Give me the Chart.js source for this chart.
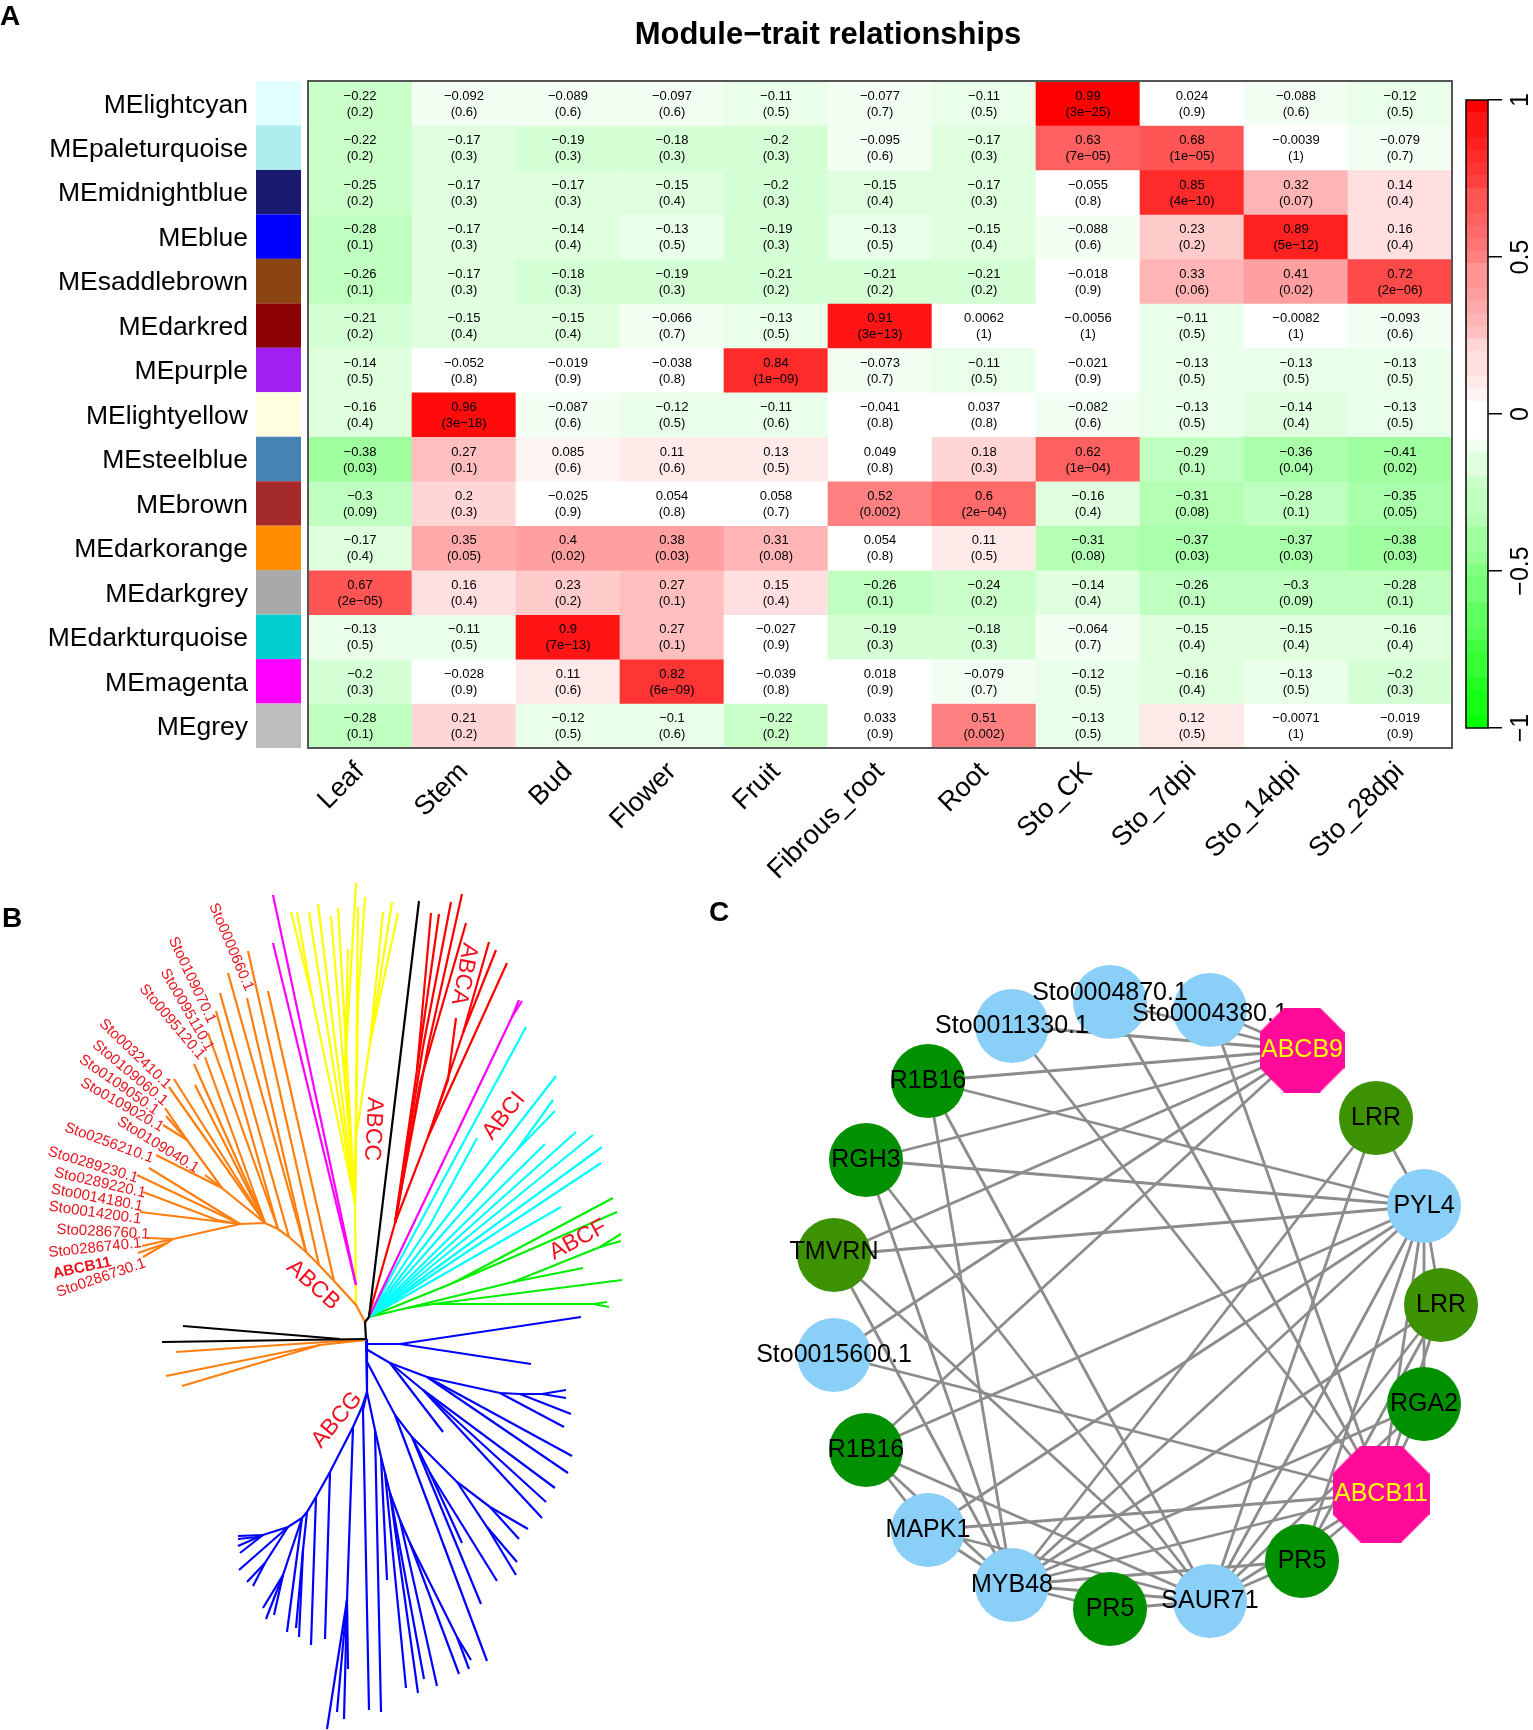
<!DOCTYPE html>
<html>
<head>
<meta charset="utf-8">
<title>Module-trait relationships</title>
<script src="https://cdn.jsdelivr.net/npm/chart.js@4/dist/chart.umd.js"></script>
<style>
  body { margin: 0; background: #fff; }
  #page { position: relative; width: 1533px; height: 1730px; overflow: hidden; font-family: "Liberation Sans", Arial, sans-serif; }
  canvas { position: absolute; }
  .letter { position: absolute; font-size: 28px; font-weight: bold; line-height: 28px; color: #000; }
  #title { position: absolute; left: 528px; width: 600px; top: 17px; text-align: center; font-size: 31px; line-height: 34px; font-weight: bold; color: #000; }
</style>
</head>
<body>
<div id="page">
  <canvas id="heatmap" width="1533" height="880" style="left:0;top:0"></canvas>
  <canvas id="colorbar" width="93" height="680" style="left:1439px;top:80px"></canvas>
  <canvas id="tree" width="700" height="860" style="left:0;top:870px"></canvas>
  <canvas id="network" width="833" height="840" style="left:700px;top:890px"></canvas>
  <div id="title">Module−trait relationships</div>
  <div class="letter" style="left:0;top:2px">A</div>
  <div class="letter" style="left:2px;top:904px">B</div>
  <div class="letter" style="left:709px;top:898px">C</div>
</div>
<script>
'use strict';

//Panel A data
const modules = ['MElightcyan', 'MEpaleturquoise', 'MEmidnightblue', 'MEblue', 'MEsaddlebrown', 'MEdarkred', 'MEpurple', 'MElightyellow', 'MEsteelblue', 'MEbrown', 'MEdarkorange', 'MEdarkgrey', 'MEdarkturquoise', 'MEmagenta', 'MEgrey'];
const moduleColors = ['#E0FFFF', '#AFEEEE', '#191970', '#0000FF', '#8B4513', '#8B0000', '#A020F0', '#FFFFE0', '#4682B4', '#A52A2A', '#FF8C00', '#A9A9A9', '#00CED1', '#FF00FF', '#BEBEBE'];
const traits = ['Leaf', 'Stem', 'Bud', 'Flower', 'Fruit', 'Fibrous_root', 'Root', 'Sto_CK', 'Sto_7dpi', 'Sto_14dpi', 'Sto_28dpi'];
const corr = [
  [-0.22, -0.092, -0.089, -0.097, -0.11, -0.077, -0.11, 0.99, 0.024, -0.088, -0.12],
  [-0.22, -0.17, -0.19, -0.18, -0.2, -0.095, -0.17, 0.63, 0.68, -0.0039, -0.079],
  [-0.25, -0.17, -0.17, -0.15, -0.2, -0.15, -0.17, -0.055, 0.85, 0.32, 0.14],
  [-0.28, -0.17, -0.14, -0.13, -0.19, -0.13, -0.15, -0.088, 0.23, 0.89, 0.16],
  [-0.26, -0.17, -0.18, -0.19, -0.21, -0.21, -0.21, -0.018, 0.33, 0.41, 0.72],
  [-0.21, -0.15, -0.15, -0.066, -0.13, 0.91, 0.0062, -0.0056, -0.11, -0.0082, -0.093],
  [-0.14, -0.052, -0.019, -0.038, 0.84, -0.073, -0.11, -0.021, -0.13, -0.13, -0.13],
  [-0.16, 0.96, -0.087, -0.12, -0.11, -0.041, 0.037, -0.082, -0.13, -0.14, -0.13],
  [-0.38, 0.27, 0.085, 0.11, 0.13, 0.049, 0.18, 0.62, -0.29, -0.36, -0.41],
  [-0.3, 0.2, -0.025, 0.054, 0.058, 0.52, 0.6, -0.16, -0.31, -0.28, -0.35],
  [-0.17, 0.35, 0.4, 0.38, 0.31, 0.054, 0.11, -0.31, -0.37, -0.37, -0.38],
  [0.67, 0.16, 0.23, 0.27, 0.15, -0.26, -0.24, -0.14, -0.26, -0.3, -0.28],
  [-0.13, -0.11, 0.9, 0.27, -0.027, -0.19, -0.18, -0.064, -0.15, -0.15, -0.16],
  [-0.2, -0.028, 0.11, 0.82, -0.039, 0.018, -0.079, -0.12, -0.16, -0.13, -0.2],
  [-0.28, 0.21, -0.12, -0.1, -0.22, 0.033, 0.51, -0.13, 0.12, -0.0071, -0.019]
];
const pvals = [
  ['0.2', '0.6', '0.6', '0.6', '0.5', '0.7', '0.5', '3e−25', '0.9', '0.6', '0.5'],
  ['0.2', '0.3', '0.3', '0.3', '0.3', '0.6', '0.3', '7e−05', '1e−05', '1', '0.7'],
  ['0.2', '0.3', '0.3', '0.4', '0.3', '0.4', '0.3', '0.8', '4e−10', '0.07', '0.4'],
  ['0.1', '0.3', '0.4', '0.5', '0.3', '0.5', '0.4', '0.6', '0.2', '5e−12', '0.4'],
  ['0.1', '0.3', '0.3', '0.3', '0.2', '0.2', '0.2', '0.9', '0.06', '0.02', '2e−06'],
  ['0.2', '0.4', '0.4', '0.7', '0.5', '3e−13', '1', '1', '0.5', '1', '0.6'],
  ['0.5', '0.8', '0.9', '0.8', '1e−09', '0.7', '0.5', '0.9', '0.5', '0.5', '0.5'],
  ['0.4', '3e−18', '0.6', '0.5', '0.6', '0.8', '0.8', '0.6', '0.5', '0.4', '0.5'],
  ['0.03', '0.1', '0.6', '0.6', '0.5', '0.8', '0.3', '1e−04', '0.1', '0.04', '0.02'],
  ['0.09', '0.3', '0.9', '0.8', '0.7', '0.002', '2e−04', '0.4', '0.08', '0.1', '0.05'],
  ['0.4', '0.05', '0.02', '0.03', '0.08', '0.8', '0.5', '0.08', '0.03', '0.03', '0.03'],
  ['2e−05', '0.4', '0.2', '0.1', '0.4', '0.1', '0.2', '0.4', '0.1', '0.09', '0.1'],
  ['0.5', '0.5', '7e−13', '0.1', '0.9', '0.3', '0.3', '0.7', '0.4', '0.4', '0.4'],
  ['0.3', '0.9', '0.6', '6e−09', '0.8', '0.9', '0.7', '0.5', '0.4', '0.5', '0.3'],
  ['0.1', '0.2', '0.5', '0.6', '0.2', '0.9', '0.002', '0.5', '0.5', '1', '0.9']
];
const colorbarTicks = [-1, -0.5, 0, 0.5, 1];

//Panel B data, tree branches as x,y runs in figure units
const abcbBranches = [
  [365,1322,356,1305,334,1281,319,1265,306,1252,289,1237,278,1229,265,1223,240,1224,173,1239],
  [334,1281,268,991], [319,1265,248,951], [306,1252,228,973], [306,1252,247,998],
  [289,1237,220,993], [278,1229,216,1011], [278,1229,208,1033], [265,1223,205,1057],
  [265,1223,194,1064], [265,1223,195,1085], [265,1223,174,1079], [265,1223,169,1087],
  [265,1223,222,1188,187,1140,165,1108], [187,1140,166,1116], [187,1140,163,1125],
  [222,1188,156,1155], [222,1188,205,1175], [240,1224,149,1168], [240,1224,137,1175],
  [240,1224,217,1220,143,1192], [240,1224,140,1212], [173,1239,147,1238], [173,1239,142,1246],
  [173,1239,167,1243,138,1253], [167,1243,143,1257],
  [366,1340,340,1341,176,1352], [366,1340,320,1345,166,1376], [320,1345,182,1386]
];
const abccBranches = [
  [356,1305,355,1203,312,997,291,912], [312,997,297,912], [355,1203,309,912], [355,1203,318,904],
  [355,1203,331,916], [355,1203,338,908], [355,1203,345,1070,348,949], [345,1070,356,883],
  [355,1203,358,907], [355,1203,358,1000,365,897], [355,1203,356,1137,370,1043,383,912],
  [370,1043,392,902], [370,1043,398,913]
];
const magentaBranches = [
  [356,1285,273,895], [356,1285,273,943], [370,1315,512,1017,519,1000], [512,1017,522,1001]
];
const abcaBranches = [
  [369,1315,395,1223,417,1070,431,913], [417,1070,439,914], [395,1223,423,1047,451,902],
  [395,1223,428,1047,462,894], [395,1223,420,1083,466,923], [395,1223,428,1137,463,1033,489,942],
  [463,1033,496,950], [428,1137,507,963], [428,1137,448,1080,456,1018]
];
const abciBranches = [
  [369,1317,526,1027], [369,1317,430,1225,477,1138], [369,1317,556,1076], [369,1317,517,1150,553,1100],
  [517,1150,555,1111], [369,1317,545,1144], [369,1317,576,1132], [369,1317,593,1135],
  [369,1317,602,1147], [369,1317,601,1163], [369,1317,561,1207]
];
const abcfBranches = [
  [369,1317,453,1283,613,1198], [453,1283,617,1212], [369,1317,407,1308,513,1282,600,1247,621,1234],
  [600,1247,621,1241], [513,1282,583,1268], [407,1308,433,1304,622,1280], [433,1304,593,1304,607,1302],
  [593,1304,609,1307]
];
const blackBranches = [
  [365,1322,366,1339], [365,1322,369,1317,419,901], [340,1339,183,1326], [366,1339,162,1342]
];
const abcgBranches = [
  [366,1339,367,1392], [366,1344,400,1344,581,1317], [400,1344,531,1364],
  [366,1349,390,1363,427,1377,500,1393,520,1394,542,1394,566,1390], [542,1394,566,1398], [520,1394,571,1414],
  [500,1393,564,1427], [427,1377,572,1456], [427,1377,568,1473], [390,1363,443,1432],
  [390,1363,423,1390,555,1488], [423,1390,546,1502], [423,1390,542,1518],
  [366,1360,395,1415,412,1437,430,1473,462,1543], [430,1473,497,1581], [412,1437,457,1482,490,1507,528,1529],
  [490,1507,519,1539], [457,1482,487,1527,517,1562], [487,1527,516,1575], [395,1415,487,1661], [412,1437,481,1604],
  [367,1392,363,1410,369,1710], [367,1392,375,1430,381,1712], [375,1430,381,1457,387,1580],
  [381,1457,385,1473,406,1688], [385,1473,390,1493,418,1693], [390,1493,424,1679], [390,1493,400,1520,437,1686],
  [400,1520,410,1543,459,1674], [410,1543,457,1637,471,1660], [457,1637,469,1669],
  [367,1392,362,1407,353,1427,330,1472,316,1497,307,1512,302,1518,288,1527,263,1535,238,1536],
  [353,1427,347,1600,344,1719], [347,1600,327,1729], [347,1600,337,1712], [347,1600,348,1669],
  [330,1472,325,1639], [316,1497,311,1645], [307,1512,303,1550,299,1637], [303,1550,296,1628],
  [302,1518,287,1632], [302,1518,283,1575,263,1608], [283,1575,266,1619], [283,1575,274,1615],
  [288,1527,265,1563,253,1586], [265,1563,247,1582], [288,1527,239,1570],
  [263,1535,238,1546], [263,1535,257,1537,238,1539], [263,1535,240,1553]
];
const seqLabels = ['Sto0000660.1', 'Sto0109070.1', 'Sto0095110.1', 'Sto0095120.1', 'Sto0032410.1', 'Sto0109060.1', 'Sto0109050.1', 'Sto0109020.1', 'Sto0109040.1', 'Sto0256210.1', 'Sto0289230.1', 'Sto0289220.1', 'Sto0014180.1', 'Sto0014200.1', 'Sto0286760.1', 'Sto0286740.1', 'ABCB11', 'Sto0286730.1'];
const seqX = [231, 192, 187, 172, 135, 130, 119, 122, 158, 109, 93, 100, 97, 95, 103, 95, 82, 101];
const seqY = [947, 980, 1010, 1022, 1054, 1073, 1085, 1105, 1145, 1143, 1165, 1183, 1198, 1213, 1232, 1248, 1268, 1278];
const seqAngle = [67, 65, 60, 50, 44, 40, 35, 30, 32, 20, 17, 13, 11, 8, 3, -6, -12, -19];
const cladeLabels = ['ABCB', 'ABCC', 'ABCA', 'ABCI', 'ABCF', 'ABCG'];
const cladeX = [313, 373, 464, 504, 578, 337];
const cladeY = [1285, 1129, 974, 1116, 1240, 1420];
const cladeAngle = [42, 93, 101, -51, -28, -50];

//Panel C data
const nodeNames = ['Sto0004870.1', 'Sto0004380.1', 'ABCB9', 'LRR', 'PYL4', 'LRR', 'RGA2', 'ABCB11', 'PR5', 'SAUR71', 'PR5', 'MYB48', 'MAPK1', 'R1B16', 'Sto0015600.1', 'TMVRN', 'RGH3', 'R1B16', 'Sto0011330.1'];
const nodeX = [1110, 1210, 1302, 1376, 1424, 1441, 1424, 1381, 1302, 1210, 1110, 1012, 928, 866, 834, 834, 866, 928, 1012];
const nodeY = [1002, 1010, 1050, 1118, 1206, 1305, 1404, 1494, 1561, 1601, 1609, 1585, 1530, 1450, 1355, 1255, 1160, 1081, 1026];
const nodeKinds = ['sto', 'sto', 'hub', 'olive', 'sto', 'olive', 'green', 'hub', 'green', 'sto', 'green', 'sto', 'sto', 'green', 'sto', 'olive', 'green', 'green', 'sto'];
const edges = [
  [18,2],[1,2],[0,2],[17,2],[16,2],[15,2],[14,2],[13,2],
  [3,4],[17,4],[16,4],[15,4],[13,4],[12,4],[11,4],[9,4],[8,4],[7,4],[6,4],[5,4],
  [3,11],[3,9],[5,11],[5,9],[5,8],[5,7],[6,7],[6,11],[6,9],
  [1,7],[0,7],[18,7],[14,7],[12,7],[11,7],[9,7],[8,7],
  [17,11],[17,9],[16,11],[16,9],[15,11],[15,9],[13,11],[13,9],[13,12],
  [12,11],[12,9],[11,10],[11,8],[11,9],[9,10],[9,8]
];

const fontName = '"Liberation Sans", Arial, sans-serif';
Chart.defaults.font.family = fontName;
Chart.defaults.animation = false;
Chart.defaults.responsive = false;
Chart.defaults.devicePixelRatio = 1;
Chart.defaults.plugins.legend.display = false;
Chart.defaults.plugins.tooltip.enabled = false;

//greenWhiteRed palette, 0.04 wide bands, white around zero
function corrColor(v) {
  let step = Math.max(0, Math.floor((Math.abs(v) - 0.02) / 0.04));
  let c = Math.round(255 * (1 - Math.min(step, 24) / 24));
  return v > 0 ? `rgb(255,${c},${c})` : `rgb(${c},255,${c})`;
}

function minusSign(v) {
  return String(v).replace('-', '−');
}

function rotatedText(ctx, text, x, y, angle) {
  ctx.save();
  ctx.translate(x, y);
  ctx.rotate(angle * Math.PI / 180);
  ctx.fillText(text, 0, 0);
  ctx.restore();
}

//heatmap cells, swatches and text
const heatmapPlugin = {
  id: 'heatmapExtras',
  afterDatasetsDraw(chart) {
    const { ctx, scales, chartArea } = chart;
    ctx.save();
    ctx.textAlign = 'center';
    ctx.textBaseline = 'middle';
    ctx.fillStyle = '#000';
    ctx.font = `13px ${fontName}`;
    corr.forEach((row, r) => {
      let yMid = scales.y.getPixelForValue(r + 0.5);
      row.forEach((v, c) => {
        let xMid = scales.x.getPixelForValue(c);
        ctx.fillText(minusSign(v), xMid, yMid - 7);
        ctx.fillText(`(${pvals[r][c]})`, xMid, yMid + 9);
      });
      ctx.fillStyle = moduleColors[r];
      ctx.fillRect(256, scales.y.getPixelForValue(r), 45, scales.y.getPixelForValue(r + 1) - scales.y.getPixelForValue(r));
      ctx.fillStyle = '#000';
    });
    ctx.strokeStyle = '#555';
    ctx.lineWidth = 2;
    ctx.strokeRect(chartArea.left, chartArea.top, chartArea.width, chartArea.height);
    ctx.restore();
  }
};

new Chart(document.getElementById('heatmap'), {
  type: 'bar',
  data: {
    labels: traits,
    datasets: corr.map((row, r) => ({
      label: modules[r],
      data: row.map(() => 1),
      backgroundColor: row.map(corrColor),
      borderWidth: 0,
      barPercentage: 1,
      categoryPercentage: 1
    }))
  },
  options: {
    layout: { padding: { top: 81, right: 81, left: 0, bottom: 0 } },
    scales: {
      x: {
        stacked: true,
        grid: { display: false, drawTicks: false },
        border: { display: false },
        ticks: { color: '#000', font: { size: 27 }, minRotation: 45, maxRotation: 45, autoSkip: false, padding: 8 },
        afterFit(scale) { scale.height = 132; scale.paddingLeft = 0; scale.paddingRight = 0; }
      },
      y: {
        stacked: true,
        reverse: true,
        min: 0,
        max: 15,
        grid: { display: false, drawTicks: false },
        border: { display: false },
        afterBuildTicks(scale) { scale.ticks = modules.map((m, i) => ({ value: i + 0.5 })); },
        ticks: { color: '#000', font: { size: 26.5 }, autoSkip: false, padding: 60, labelOffset: 2, callback: (v) => modules[v - 0.5] },
        afterFit(scale) { scale.width = 308; scale.paddingTop = 0; scale.paddingBottom = 0; }
      }
    }
  },
  plugins: [heatmapPlugin]
});

//colour key
const keyLevels = Array.from({ length: 50 }, (_, i) => -1 + i * 0.04);
const colorbarPlugin = {
  id: 'colorbarExtras',
  afterDraw(chart) {
    const { ctx, scales, chartArea } = chart;
    ctx.save();
    ctx.strokeStyle = '#000';
    ctx.lineWidth = 1.5;
    ctx.strokeRect(chartArea.left, chartArea.top, chartArea.width, chartArea.height);
    ctx.fillStyle = '#000';
    ctx.font = `25px ${fontName}`;
    ctx.textAlign = 'center';
    ctx.textBaseline = 'middle';
    colorbarTicks.forEach((t) => {
      rotatedText(ctx, minusSign(t), 82, scales.y.getPixelForValue(t), -90);
    });
    ctx.restore();
  }
};

new Chart(document.getElementById('colorbar'), {
  type: 'bar',
  data: {
    labels: ['key'],
    datasets: keyLevels.map((lo) => ({
      data: [[lo, lo + 0.04]],
      backgroundColor: corrColor(lo + 0.02),
      grouped: false,
      borderWidth: 0,
      barPercentage: 1,
      categoryPercentage: 1
    }))
  },
  options: {
    layout: { padding: { left: 27, top: 20, bottom: 32, right: 0 } },
    scales: {
      x: { display: false },
      y: {
        position: 'right',
        min: -1,
        max: 1,
        afterBuildTicks(scale) { scale.ticks = colorbarTicks.map((t) => ({ value: t })); },
        grid: { drawOnChartArea: false, tickLength: 14, color: '#000', lineWidth: 1.5 },
        border: { display: false },
        ticks: { display: false },
        afterFit(scale) { scale.width = 44; }
      }
    }
  },
  plugins: [colorbarPlugin]
});

//tree
function branchDatasets(branches, color) {
  return branches.map((run) => {
    let pts = [];
    for (let i = 0; i < run.length; i += 2) {
      pts.push({ x: run[i], y: run[i + 1] });
    }
    return { data: pts, showLine: true, borderColor: color, borderWidth: 2.2, pointRadius: 0, tension: 0 };
  });
}

const treeLabelPlugin = {
  id: 'treeLabels',
  afterDatasetsDraw(chart) {
    const { ctx, scales } = chart;
    ctx.save();
    ctx.textAlign = 'center';
    ctx.textBaseline = 'middle';
    ctx.fillStyle = '#e8141e';
    seqLabels.forEach((name, i) => {
      ctx.font = name === 'ABCB11' ? `bold 15px ${fontName}` : `15px ${fontName}`;
      rotatedText(ctx, name, scales.x.getPixelForValue(seqX[i]), scales.y.getPixelForValue(seqY[i]), seqAngle[i]);
    });
    ctx.fillStyle = '#f01020';
    ctx.font = `23px ${fontName}`;
    cladeLabels.forEach((name, i) => {
      rotatedText(ctx, name, scales.x.getPixelForValue(cladeX[i]), scales.y.getPixelForValue(cladeY[i]), cladeAngle[i]);
    });
    ctx.restore();
  }
};

new Chart(document.getElementById('tree'), {
  type: 'scatter',
  data: {
    datasets: [].concat(
      branchDatasets(blackBranches, '#000000'),
      branchDatasets(magentaBranches, '#ff00ff'),
      branchDatasets(abcaBranches, '#ff0000'),
      branchDatasets(abcbBranches, '#ff7f0e'),
      branchDatasets(abccBranches, '#ffff00'),
      branchDatasets(abciBranches, '#00ffff'),
      branchDatasets(abcfBranches, '#00ee00'),
      branchDatasets(abcgBranches, '#0000ff')
    )
  },
  options: {
    layout: { padding: 0, autoPadding: false },
    scales: {
      x: { display: false, min: 0, max: 700 },
      y: { display: false, min: 870, max: 1730, reverse: true }
    }
  },
  plugins: [treeLabelPlugin]
});

//network
const kindColors = { sto: '#89CFF8', green: '#009000', olive: '#3C9200', hub: '#FF0A99' };

function octagonImage(size, color) {
  let c = document.createElement('canvas');
  c.width = size;
  c.height = size;
  let g = c.getContext('2d');
  let cut = size * 0.29;
  g.fillStyle = color;
  g.beginPath();
  g.moveTo(cut, 0);
  g.lineTo(size - cut, 0);
  g.lineTo(size, cut);
  g.lineTo(size, size - cut);
  g.lineTo(size - cut, size);
  g.lineTo(cut, size);
  g.lineTo(0, size - cut);
  g.lineTo(0, cut);
  g.closePath();
  g.fill();
  return c;
}

const hubImages = { 'ABCB9': octagonImage(85, kindColors.hub), 'ABCB11': octagonImage(97, kindColors.hub) };
const nodeIds = nodeNames.map((n, i) => i);
const hubIds = nodeIds.filter((i) => nodeKinds[i] === 'hub');
const roundIds = nodeIds.filter((i) => nodeKinds[i] !== 'hub');
const labelShift = { 0: -9, 1: 4, 15: -3 };

function drawNodeLabels(chart, ids) {
  const { ctx, scales } = chart;
  ctx.save();
  ctx.textAlign = 'center';
  ctx.textBaseline = 'middle';
  ctx.font = `25px ${fontName}`;
  ids.forEach((i) => {
    ctx.fillStyle = nodeKinds[i] === 'hub' ? '#FFFF00' : '#000';
    ctx.fillText(nodeNames[i], scales.x.getPixelForValue(nodeX[i]) , scales.y.getPixelForValue(nodeY[i] + (labelShift[i] || 0)));
  });
  ctx.restore();
}

new Chart(document.getElementById('network'), {
  type: 'scatter',
  data: {
    datasets: [
      {
        data: hubIds.map((i) => ({ x: nodeX[i], y: nodeY[i] })),
        pointStyle: hubIds.map((i) => hubImages[nodeNames[i]]),
        pointRadius: 40,
        clip: false
      },
      {
        data: roundIds.map((i) => ({ x: nodeX[i], y: nodeY[i] })),
        backgroundColor: roundIds.map((i) => kindColors[nodeKinds[i]]),
        pointBackgroundColor: roundIds.map((i) => kindColors[nodeKinds[i]]),
        pointBorderWidth: 0,
        pointRadius: 37,
        clip: false
      }
    ].concat(edges.map((e) => ({
      data: [{ x: nodeX[e[0]], y: nodeY[e[0]] }, { x: nodeX[e[1]], y: nodeY[e[1]] }],
      showLine: true,
      borderColor: '#8c8c8c',
      borderWidth: 2.8,
      pointRadius: 0
    })))
  },
  options: {
    layout: { padding: 0, autoPadding: false },
    scales: {
      x: { display: false, min: 700, max: 1533 },
      y: { display: false, min: 890, max: 1730, reverse: true }
    }
  },
  plugins: [{
    id: 'nodeLabels',
    afterDatasetDraw(chart, args) {
      if (args.index === 1) {
        drawNodeLabels(chart, roundIds);
      }
    },
    afterDatasetsDraw(chart) {
      drawNodeLabels(chart, hubIds);
    }
  }]
});
</script>
</body>
</html>
